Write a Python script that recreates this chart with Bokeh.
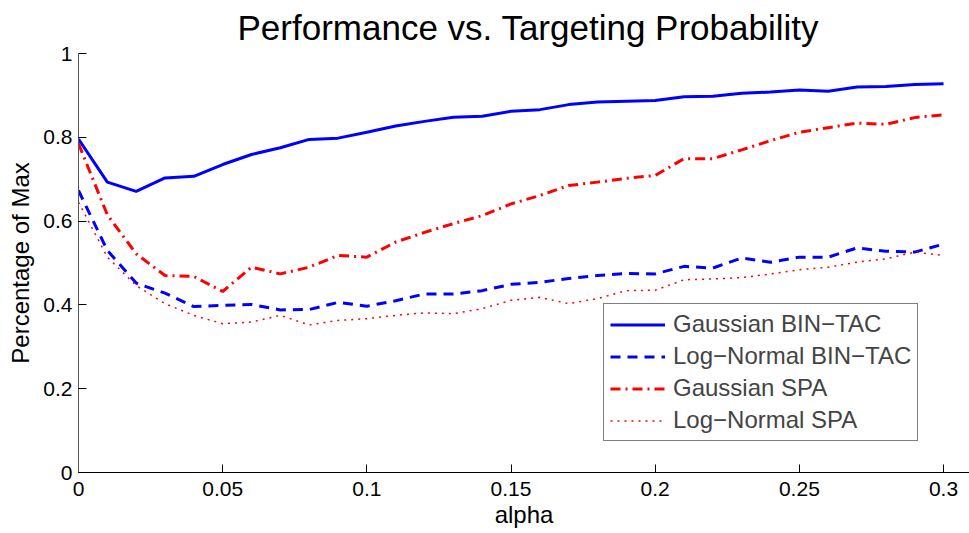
from bokeh.plotting import figure
from bokeh.models import Range1d, FixedTicker, CustomJSTickFormatter, Legend, LegendItem
from bokeh.embed import file_html
from bokeh.resources import INLINE

alpha = [0.00, 0.01, 0.02, 0.03, 0.04, 0.05, 0.06, 0.07, 0.08, 0.09, 0.10,
         0.11, 0.12, 0.13, 0.14, 0.15, 0.16, 0.17, 0.18, 0.19, 0.20,
         0.21, 0.22, 0.23, 0.24, 0.25, 0.26, 0.27, 0.28, 0.29, 0.30]
gauss_bintac = [0.796, 0.693, 0.671, 0.703, 0.707, 0.735, 0.759, 0.775, 0.795, 0.798, 0.812,
                0.827, 0.838, 0.848, 0.850, 0.862, 0.866, 0.878, 0.884, 0.886, 0.888,
                0.897, 0.898, 0.905, 0.908, 0.913, 0.910, 0.920, 0.921, 0.926, 0.928]
lognorm_bintac = [0.673, 0.530, 0.452, 0.428, 0.396, 0.399, 0.401, 0.388, 0.389, 0.406, 0.397,
                  0.410, 0.426, 0.426, 0.434, 0.449, 0.454, 0.463, 0.470, 0.475, 0.474,
                  0.492, 0.488, 0.512, 0.502, 0.514, 0.514, 0.536, 0.528, 0.526, 0.545]
gauss_spa = [0.785, 0.615, 0.522, 0.470, 0.468, 0.432, 0.490, 0.474, 0.490, 0.518, 0.514,
             0.550, 0.573, 0.594, 0.613, 0.641, 0.661, 0.685, 0.693, 0.702, 0.709,
             0.749, 0.749, 0.770, 0.792, 0.812, 0.823, 0.834, 0.831, 0.847, 0.854]
lognorm_spa = [0.645, 0.514, 0.446, 0.403, 0.375, 0.355, 0.359, 0.375, 0.352, 0.363, 0.367,
               0.375, 0.381, 0.379, 0.391, 0.411, 0.418, 0.403, 0.415, 0.434, 0.435,
               0.460, 0.462, 0.465, 0.474, 0.484, 0.490, 0.502, 0.510, 0.526, 0.518]

title_text = "Performance vs. Targeting Probability"
series_labels = ["Gaussian BIN\u2212TAC", "Log\u2212Normal BIN\u2212TAC",
                 "Gaussian SPA", "Log\u2212Normal SPA"]
x_ticks = [0, 0.05, 0.1, 0.15, 0.2, 0.25, 0.3]
y_ticks = [0, 0.2, 0.4, 0.6, 0.8, 1]

FONT = "Liberation Sans"

p = figure(width=969, height=533, output_backend="svg", toolbar_location=None,
           x_range=Range1d(0, 0.309), y_range=Range1d(0, 1),
           min_border_left=78, min_border_right=0, min_border_top=53, min_border_bottom=61,
           title=title_text)
p.title.text_font = FONT
p.title.text_font_size = "35px"
p.title.text_font_style = "normal"
p.title.text_color = "black"
p.title.align = "left"
p.title.vertical_align = "top"
p.title.offset = 159
p.title.standoff = 9
p.outline_line_color = None
p.xgrid.visible = False
p.ygrid.visible = False
p.background_fill_color = "white"
p.border_fill_color = "white"

for ax in (p.xaxis[0], p.yaxis[0]):
    ax.major_tick_in = 8
    ax.major_tick_out = 0
    ax.minor_tick_line_color = None
    ax.major_label_text_font = FONT
    ax.major_label_text_font_size = "21px"
    ax.major_label_text_color = "black"
    ax.axis_label_text_font = FONT
    ax.axis_label_text_font_size = "24px"
    ax.axis_label_text_font_style = "normal"
    ax.axis_label_text_color = "black"
    ax.axis_line_color = "black"
    ax.major_tick_line_color = "black"
    ax.formatter = CustomJSTickFormatter(code="return String(Math.round(tick*100)/100);")

p.xaxis.ticker = FixedTicker(ticks=x_ticks)
p.yaxis.ticker = FixedTicker(ticks=y_ticks)
p.xaxis.axis_label = "alpha"
p.yaxis.axis_label = "Percentage of Max"
p.xaxis.major_label_standoff = 9
p.yaxis.major_label_standoff = 6
p.xaxis.axis_label_standoff = 2
p.yaxis.axis_label_standoff = 6
p.yaxis.axis_line_color = "#555555"

r1 = p.line(alpha, gauss_bintac, line_color="#0000ff", line_width=3)
r2 = p.line(alpha, lognorm_bintac, line_color="#0000ff", line_width=3, line_dash="10 7")
r3 = p.line(alpha, gauss_spa, line_color="#ff0000", line_width=3, line_dash="10 5 2 5")
r4 = p.line(alpha, lognorm_spa, line_color="#ff0000", line_width=1.5, line_dash="2 5")

legend = Legend(items=[LegendItem(label=lab, renderers=[r]) for lab, r in
                       zip(series_labels, [r1, r2, r3, r4])],
                location=(525, 31))
legend.label_text_font = FONT
legend.label_text_font_size = "24px"
legend.label_height = 27
legend.glyph_height = 27
legend.glyph_width = 55
legend.label_standoff = 8
legend.padding = 6
legend.spacing = 4
legend.margin = 0
legend.border_line_color = "black"
legend.border_line_width = 1.5
legend.background_fill_color = "white"
legend.background_fill_alpha = 1
p.add_layout(legend, "center")

open("out.html", "w").write(file_html(p, INLINE))
